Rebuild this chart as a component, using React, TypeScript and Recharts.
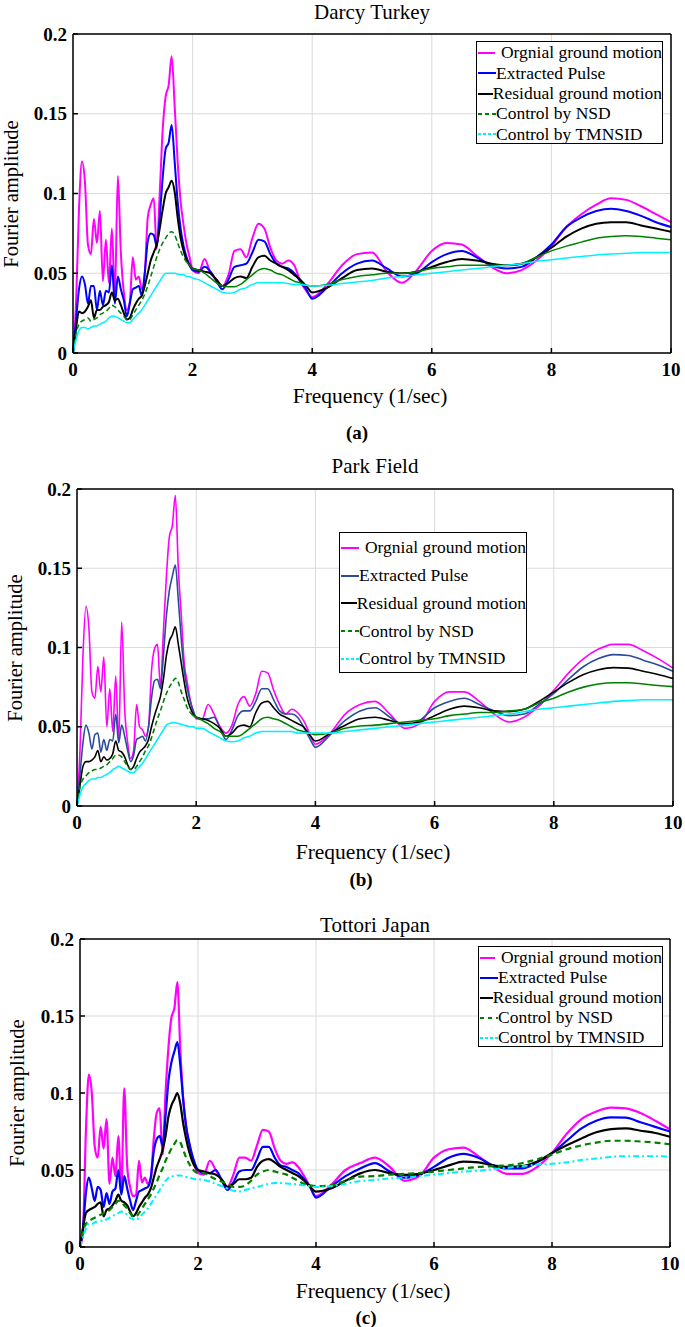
import { CartesianGrid, Legend, Line, LineChart, XAxis, YAxis } from "recharts";

const SERIF = '"Liberation Serif", "Times New Roman", serif';

// frequency grid (1/sec): dense where the spectra are jagged, coarser where smooth
const FREQ = [
  0, 0.05, 0.1, 0.15, 0.2, 0.25, 0.3, 0.35, 0.4, 0.45, 0.5, 0.55, 0.6, 0.65, 0.7, 0.75, 0.8, 0.85, 0.9, 0.95,
  1.0, 1.05, 1.1, 1.15, 1.2, 1.25, 1.3, 1.35, 1.4, 1.45, 1.5, 1.55, 1.6, 1.65, 1.7, 1.75, 1.8, 1.85, 1.9, 1.95, 2.0,
  2.1, 2.2, 2.3, 2.4, 2.5, 2.6, 2.7, 2.8, 2.9, 3.0, 3.1, 3.2, 3.3, 3.4, 3.5, 3.6, 3.7, 3.8, 3.9, 4.0,
  4.25, 4.5, 4.75, 5.0, 5.25, 5.5, 5.75, 6.0, 6.25, 6.5, 6.75, 7.0, 7.25, 7.5, 7.75, 8.0, 8.25, 8.5, 8.75, 9.0,
  9.25, 9.5, 9.75, 10.0
];
const X_TICKS = [0, 2, 4, 6, 8, 10];
const Y_TICKS = [0, 0.05, 0.1, 0.15, 0.2];
const SERIES_NAMES = [
  "Orgnial ground motion",
  "Extracted Pulse",
  "Residual ground motion",
  "Control by NSD",
  "Control by TMNSID"
];

// (a) Darcy Turkey
const darcyOrig = [
  0, 0.03, 0.09, 0.12, 0.107, 0.068, 0.062, 0.084, 0.069, 0.089, 0.045, 0.071, 0.044, 0.078, 0.035, 0.111, 0.063, 0.038, 0.027, 0.032,
  0.06, 0.046, 0.048, 0.04, 0.05, 0.085, 0.093, 0.097, 0.065, 0.1, 0.14, 0.161, 0.168, 0.186, 0.155, 0.12, 0.095, 0.08, 0.068, 0.06, 0.052,
  0.05, 0.059, 0.05, 0.046, 0.042, 0.049, 0.064, 0.065, 0.06, 0.072, 0.081, 0.078, 0.066, 0.058, 0.056, 0.058, 0.055, 0.045, 0.039, 0.035,
  0.043, 0.055, 0.062, 0.063, 0.051, 0.044, 0.052, 0.064, 0.069, 0.068, 0.061, 0.054, 0.05, 0.052, 0.058, 0.067, 0.079, 0.087, 0.093, 0.097,
  0.096, 0.092, 0.087, 0.082
];
const darcyPulse = [
  0, 0.02, 0.04, 0.048, 0.043, 0.031, 0.042, 0.042, 0.027, 0.039, 0.03, 0.039, 0.038, 0.055, 0.031, 0.048, 0.04, 0.033, 0.023, 0.031,
  0.04, 0.041, 0.042, 0.036, 0.05, 0.07, 0.075, 0.074, 0.067, 0.085, 0.11, 0.128, 0.132, 0.143, 0.12, 0.095, 0.078, 0.067, 0.06, 0.055, 0.052,
  0.051, 0.054, 0.051, 0.045, 0.04, 0.046, 0.054, 0.055, 0.056, 0.063, 0.071, 0.07, 0.062, 0.056, 0.054, 0.053, 0.05, 0.045, 0.04, 0.034,
  0.041, 0.05, 0.056, 0.058, 0.053, 0.048, 0.05, 0.057, 0.062, 0.064, 0.06, 0.055, 0.053, 0.054, 0.06, 0.068, 0.079, 0.085, 0.089, 0.0905,
  0.089, 0.086, 0.082, 0.079
];
const darcyResid = [
  0, 0.015, 0.026, 0.025, 0.026, 0.029, 0.033, 0.022, 0.027, 0.027, 0.029, 0.03, 0.032, 0.038, 0.033, 0.034, 0.03, 0.025, 0.021, 0.022,
  0.027, 0.031, 0.034, 0.036, 0.042, 0.05, 0.058, 0.063, 0.068, 0.078, 0.09, 0.1, 0.104, 0.108, 0.101, 0.085, 0.072, 0.064, 0.058, 0.055, 0.053,
  0.052, 0.051, 0.05, 0.046, 0.042, 0.044, 0.047, 0.048, 0.047, 0.054, 0.06, 0.061, 0.058, 0.056, 0.054, 0.052, 0.049, 0.046, 0.042, 0.038,
  0.041, 0.047, 0.052, 0.053, 0.051, 0.05, 0.051, 0.054, 0.057, 0.059, 0.058, 0.056, 0.055, 0.056, 0.06, 0.066, 0.073, 0.078, 0.081, 0.082,
  0.082, 0.08, 0.078, 0.076
];
const darcyNsd = [
  0, 0.012, 0.018, 0.02, 0.021, 0.022, 0.02, 0.021, 0.022, 0.024, 0.025, 0.026, 0.028, 0.03, 0.029, 0.027, 0.025, 0.023, 0.021, 0.021,
  0.024, 0.027, 0.03, 0.033, 0.037, 0.042, 0.048, 0.054, 0.06, 0.065, 0.069, 0.072, 0.075, 0.076, 0.074, 0.069, 0.064, 0.06, 0.057, 0.055, 0.053,
  0.052, 0.05, 0.047, 0.044, 0.042, 0.0415, 0.0415, 0.043, 0.046, 0.049, 0.052, 0.053, 0.052, 0.05, 0.049, 0.047, 0.045, 0.044, 0.0425, 0.042,
  0.043, 0.046, 0.048, 0.049, 0.05, 0.05, 0.051, 0.053, 0.054, 0.055, 0.055, 0.055, 0.055, 0.056, 0.06, 0.064, 0.067, 0.0695, 0.072, 0.073,
  0.0735, 0.073, 0.072, 0.071
];
const darcyTmnsid = [
  0, 0.008, 0.014, 0.016, 0.016, 0.015, 0.016, 0.017, 0.017, 0.018, 0.019, 0.02, 0.022, 0.023, 0.023, 0.022, 0.021, 0.02, 0.019, 0.019,
  0.021, 0.023, 0.025, 0.027, 0.03, 0.033, 0.036, 0.039, 0.042, 0.045, 0.048, 0.05, 0.05, 0.05, 0.05, 0.0495, 0.049, 0.049, 0.048, 0.048, 0.047,
  0.046, 0.044, 0.042, 0.04, 0.038, 0.0375, 0.038, 0.04, 0.041, 0.043, 0.044, 0.044, 0.044, 0.044, 0.044, 0.0435, 0.043, 0.043, 0.0425, 0.042,
  0.0425, 0.0435, 0.0445, 0.0455, 0.047, 0.048, 0.049, 0.05, 0.051, 0.052, 0.053, 0.054, 0.055, 0.056, 0.0575, 0.0585, 0.0595, 0.0605, 0.0615, 0.062,
  0.0625, 0.063, 0.063, 0.063
];

// (b) Park Field
const parkOrig = [
  0, 0.035, 0.095, 0.126, 0.112, 0.072, 0.068, 0.088, 0.072, 0.094, 0.05, 0.074, 0.047, 0.082, 0.04, 0.116, 0.061, 0.04, 0.03, 0.035,
  0.064, 0.05, 0.048, 0.044, 0.05, 0.085, 0.099, 0.102, 0.075, 0.11, 0.145, 0.17, 0.177, 0.196, 0.15, 0.12, 0.09, 0.078, 0.067, 0.06, 0.055,
  0.055, 0.064, 0.058, 0.05, 0.046, 0.051, 0.064, 0.069, 0.063, 0.071, 0.085, 0.084, 0.073, 0.064, 0.058, 0.061, 0.059, 0.054, 0.046, 0.039,
  0.046, 0.058, 0.064, 0.066, 0.058, 0.049, 0.052, 0.066, 0.072, 0.072, 0.066, 0.058, 0.053, 0.056, 0.063, 0.073, 0.084, 0.093, 0.099, 0.102,
  0.102, 0.098, 0.093, 0.087
];
const parkPulse = [
  0, 0.02, 0.04, 0.051, 0.046, 0.036, 0.045, 0.046, 0.034, 0.042, 0.035, 0.042, 0.041, 0.058, 0.04, 0.051, 0.044, 0.035, 0.028, 0.032,
  0.042, 0.043, 0.044, 0.041, 0.05, 0.068, 0.079, 0.08, 0.074, 0.095, 0.12, 0.136, 0.145, 0.152, 0.13, 0.105, 0.085, 0.074, 0.066, 0.06, 0.056,
  0.055, 0.055, 0.056, 0.049, 0.042, 0.048, 0.057, 0.06, 0.06, 0.066, 0.074, 0.074, 0.067, 0.06, 0.058, 0.058, 0.056, 0.05, 0.043, 0.037,
  0.045, 0.054, 0.06, 0.062, 0.056, 0.051, 0.054, 0.062, 0.066, 0.068, 0.064, 0.06, 0.057, 0.058, 0.064, 0.071, 0.08, 0.088, 0.093, 0.0955,
  0.095, 0.092, 0.089, 0.085
];
const parkResid = [
  0, 0.013, 0.025, 0.028, 0.028, 0.029, 0.031, 0.035, 0.028, 0.031, 0.029, 0.03, 0.033, 0.041, 0.035, 0.034, 0.031, 0.026, 0.023, 0.025,
  0.03, 0.034, 0.036, 0.038, 0.042, 0.05, 0.057, 0.063, 0.069, 0.08, 0.095, 0.104, 0.108, 0.113, 0.102, 0.09, 0.078, 0.068, 0.062, 0.058, 0.056,
  0.055, 0.054, 0.052, 0.049, 0.044, 0.046, 0.05, 0.051, 0.05, 0.059, 0.065, 0.066, 0.062, 0.058, 0.056, 0.054, 0.052, 0.05, 0.045, 0.041,
  0.046, 0.051, 0.055, 0.056, 0.054, 0.052, 0.053, 0.057, 0.061, 0.063, 0.062, 0.06, 0.0595, 0.061, 0.066, 0.072, 0.078, 0.083, 0.086, 0.0873,
  0.087, 0.085, 0.083, 0.0805
];
const parkNsd = [
  0, 0.012, 0.017, 0.019, 0.021, 0.022, 0.023, 0.023, 0.024, 0.025, 0.026, 0.028, 0.03, 0.032, 0.032, 0.031, 0.028, 0.025, 0.023, 0.023,
  0.025, 0.028, 0.031, 0.035, 0.038, 0.043, 0.049, 0.055, 0.06, 0.066, 0.071, 0.075, 0.078, 0.0805, 0.078, 0.072, 0.067, 0.062, 0.059, 0.057, 0.056,
  0.054, 0.052, 0.049, 0.047, 0.044, 0.044, 0.044, 0.046, 0.049, 0.052, 0.055, 0.056, 0.055, 0.054, 0.052, 0.05, 0.048, 0.047, 0.046, 0.045,
  0.046, 0.049, 0.0505, 0.051, 0.052, 0.053, 0.054, 0.055, 0.057, 0.058, 0.059, 0.059, 0.06, 0.061, 0.065, 0.068, 0.072, 0.075, 0.077, 0.0778,
  0.0778, 0.077, 0.076, 0.0753
];
const parkTmnsid = [
  0, 0.007, 0.012, 0.014, 0.016, 0.017, 0.017, 0.018, 0.018, 0.019, 0.02, 0.021, 0.023, 0.024, 0.025, 0.024, 0.023, 0.022, 0.021, 0.021,
  0.023, 0.025, 0.027, 0.03, 0.033, 0.036, 0.039, 0.042, 0.045, 0.048, 0.051, 0.052, 0.0525, 0.0525, 0.052, 0.0515, 0.051, 0.0505, 0.05, 0.05, 0.049,
  0.049, 0.047, 0.045, 0.043, 0.041, 0.0405, 0.041, 0.043, 0.044, 0.046, 0.047, 0.047, 0.047, 0.047, 0.047, 0.047, 0.046, 0.046, 0.046, 0.046,
  0.046, 0.047, 0.048, 0.049, 0.05, 0.051, 0.052, 0.053, 0.054, 0.055, 0.056, 0.057, 0.058, 0.0595, 0.061, 0.062, 0.063, 0.064, 0.065, 0.066,
  0.0665, 0.067, 0.067, 0.067
];

// (c) Tottori Japan
const tottoriOrig = [
  0, 0.01, 0.075, 0.112, 0.1, 0.065, 0.058, 0.078, 0.064, 0.083, 0.041, 0.058, 0.046, 0.072, 0.037, 0.103, 0.052, 0.039, 0.033, 0.034,
  0.056, 0.042, 0.045, 0.041, 0.045, 0.07, 0.087, 0.09, 0.06, 0.1, 0.13, 0.149, 0.155, 0.172, 0.128, 0.096, 0.078, 0.067, 0.059, 0.052, 0.048,
  0.047, 0.056, 0.05, 0.0435, 0.039, 0.047, 0.058, 0.058, 0.056, 0.066, 0.076, 0.075, 0.064, 0.056, 0.054, 0.055, 0.052, 0.046, 0.039, 0.033,
  0.04, 0.05, 0.0545, 0.058, 0.052, 0.043, 0.046, 0.058, 0.0635, 0.0645, 0.059, 0.052, 0.0475, 0.0475, 0.052, 0.061, 0.0735, 0.083, 0.088, 0.0905,
  0.09, 0.087, 0.082, 0.0764
];
const tottoriPulse = [
  0, 0.012, 0.035, 0.045, 0.038, 0.03, 0.039, 0.037, 0.026, 0.035, 0.028, 0.036, 0.038, 0.05, 0.034, 0.046, 0.038, 0.03, 0.024, 0.03,
  0.036, 0.037, 0.038, 0.039, 0.045, 0.062, 0.07, 0.072, 0.066, 0.085, 0.108, 0.12, 0.127, 0.133, 0.118, 0.095, 0.078, 0.068, 0.06, 0.054, 0.05,
  0.048, 0.048, 0.05, 0.0435, 0.037, 0.042, 0.049, 0.05, 0.05, 0.057, 0.065, 0.065, 0.058, 0.053, 0.052, 0.05, 0.048, 0.044, 0.039, 0.032,
  0.039, 0.046, 0.051, 0.0545, 0.049, 0.045, 0.047, 0.052, 0.058, 0.0605, 0.058, 0.053, 0.051, 0.051, 0.055, 0.061, 0.069, 0.077, 0.082, 0.0842,
  0.084, 0.081, 0.078, 0.075
];
const tottoriResid = [
  0, 0.012, 0.022, 0.024, 0.025, 0.026, 0.028, 0.029, 0.02, 0.024, 0.025, 0.027, 0.03, 0.034, 0.03, 0.029, 0.027, 0.023, 0.02, 0.022,
  0.026, 0.029, 0.032, 0.034, 0.038, 0.045, 0.052, 0.057, 0.063, 0.072, 0.085, 0.092, 0.096, 0.1, 0.093, 0.08, 0.07, 0.062, 0.056, 0.052, 0.05,
  0.049, 0.048, 0.047, 0.044, 0.039, 0.041, 0.044, 0.044, 0.045, 0.052, 0.056, 0.057, 0.055, 0.052, 0.05, 0.048, 0.046, 0.043, 0.039, 0.036,
  0.038, 0.043, 0.0478, 0.05, 0.048, 0.0468, 0.0475, 0.05, 0.053, 0.0555, 0.055, 0.053, 0.052, 0.0525, 0.0555, 0.061, 0.066, 0.0705, 0.0745, 0.0765,
  0.077, 0.0755, 0.074, 0.0716
];
const tottoriNsd = [
  0, 0.01, 0.015, 0.017, 0.018, 0.019, 0.02, 0.021, 0.022, 0.023, 0.024, 0.026, 0.028, 0.03, 0.029, 0.027, 0.025, 0.022, 0.02, 0.02,
  0.022, 0.025, 0.028, 0.031, 0.034, 0.038, 0.042, 0.047, 0.051, 0.056, 0.06, 0.064, 0.067, 0.0695, 0.068, 0.063, 0.058, 0.054, 0.051, 0.049, 0.048,
  0.048, 0.046, 0.044, 0.0425, 0.041, 0.039, 0.039, 0.04, 0.043, 0.047, 0.049, 0.05, 0.049, 0.048, 0.047, 0.045, 0.043, 0.041, 0.04, 0.0395,
  0.04, 0.043, 0.0457, 0.046, 0.047, 0.0475, 0.048, 0.049, 0.05, 0.051, 0.052, 0.0525, 0.053, 0.0545, 0.057, 0.06, 0.0635, 0.066, 0.0678, 0.069,
  0.069, 0.0685, 0.0678, 0.0667
];
const tottoriTmnsid = [
  0, 0.006, 0.012, 0.015, 0.015, 0.016, 0.0165, 0.017, 0.017, 0.018, 0.019, 0.02, 0.021, 0.022, 0.023, 0.022, 0.021, 0.019, 0.018, 0.0175,
  0.019, 0.021, 0.023, 0.025, 0.028, 0.031, 0.034, 0.037, 0.04, 0.043, 0.045, 0.046, 0.046, 0.0465, 0.0465, 0.046, 0.0455, 0.045, 0.0445, 0.044, 0.044,
  0.0435, 0.0425, 0.041, 0.0395, 0.038, 0.0365, 0.036, 0.037, 0.038, 0.039, 0.04, 0.041, 0.0415, 0.0415, 0.0413, 0.041, 0.0405, 0.04, 0.0395, 0.039,
  0.0395, 0.041, 0.0429, 0.0435, 0.0445, 0.045, 0.046, 0.047, 0.048, 0.049, 0.0495, 0.0505, 0.0515, 0.0525, 0.0535, 0.054, 0.055, 0.0565, 0.0575, 0.0585,
  0.059, 0.059, 0.059, 0.0587
];

type LineStyle = { color: string; width: number; dash?: string; legendDash?: string };

type PanelDef = {
  title: string;
  letter: string;
  bandTop: number;
  bandHeight: number;
  plot: { left: number; top: number; right: number; bottom: number };
  series: number[][];
  styles: LineStyle[];
  splitNsd: boolean;
  legend: { left: number; top: number; width: number; height: number; row: number };
  titleY: number;
  xLabelY: number;
  letterX: number;
  letterY: number;
  yLabelX: number;
};

const PANELS: PanelDef[] = [
  {
    title: "Darcy Turkey",
    letter: "(a)",
    bandTop: 0,
    bandHeight: 450,
    plot: { left: 73, top: 34, right: 671, bottom: 353 },
    series: [darcyOrig, darcyPulse, darcyResid, darcyNsd, darcyTmnsid],
    styles: [
      { color: "#ff00ff", width: 2 },
      { color: "#0000ff", width: 2 },
      { color: "#000000", width: 2 },
      { color: "#008000", width: 1.5, dash: "5 3", legendDash: "4 3" },
      { color: "#00f0ff", width: 1.5, legendDash: "3 2" }
    ],
    splitNsd: true,
    legend: { left: 476, top: 41, width: 187, height: 103, row: 20.3 },
    titleY: 12,
    xLabelY: 396,
    letterX: 357,
    letterY: 433,
    yLabelX: 11
  },
  {
    title: "Park Field",
    letter: "(b)",
    bandTop: 450,
    bandHeight: 450,
    plot: { left: 77, top: 489, right: 673, bottom: 806 },
    series: [parkOrig, parkPulse, parkResid, parkNsd, parkTmnsid],
    styles: [
      { color: "#ff00ff", width: 1.6 },
      { color: "#2b4c9b", width: 1.6 },
      { color: "#000000", width: 1.6 },
      { color: "#008000", width: 1.6, dash: "5 3", legendDash: "4 3" },
      { color: "#00f0ff", width: 1.6, legendDash: "3 2" }
    ],
    splitNsd: true,
    legend: { left: 339, top: 532, width: 188, height: 141, row: 27.8 },
    titleY: 466,
    xLabelY: 852,
    letterX: 361,
    letterY: 880,
    yLabelX: 15
  },
  {
    title: "Tottori Japan",
    letter: "(c)",
    bandTop: 900,
    bandHeight: 427,
    plot: { left: 80, top: 939, right: 670, bottom: 1247 },
    series: [tottoriOrig, tottoriPulse, tottoriResid, tottoriNsd, tottoriTmnsid],
    styles: [
      { color: "#ff00ff", width: 2.2 },
      { color: "#0000ff", width: 2.2 },
      { color: "#000000", width: 2.2 },
      { color: "#008000", width: 2.2, dash: "6 4", legendDash: "4 4" },
      { color: "#00f0ff", width: 2, dash: "6 3 2 3", legendDash: "3 2" }
    ],
    splitNsd: false,
    legend: { left: 478, top: 946, width: 185, height: 101, row: 20 },
    titleY: 925,
    xLabelY: 1291,
    letterX: 366,
    letterY: 1318,
    yLabelX: 17
  }
];

const KEYS = ["orig", "pulse", "resid", "nsd", "tmnsid"];
const X_AXIS_H = 40;

const buildRows = (p: PanelDef) =>
  FREQ.map((f, i) => {
    const row: Record<string, number | null> = { f };
    KEYS.forEach((k, j) => {
      row[k] = p.series[j][i];
    });
    if (p.splitNsd) {
      row.nsdLow = f <= 1.9 ? p.series[3][i] : null;
      row.nsd = f >= 1.9 ? p.series[3][i] : null;
    }
    return row;
  });

const LegendBox = ({ p }: { p: PanelDef }) => (
  <div
    style={{
      width: p.legend.width,
      height: p.legend.height,
      boxSizing: "border-box",
      border: "1.5px solid #000",
      background: "#fff",
      paddingTop: 1,
      fontFamily: SERIF,
      fontSize: 17.5,
      color: "#000",
      lineHeight: 1
    }}
  >
    {SERIES_NAMES.map((name, i) => {
      const s = p.styles[i];
      return (
        <div key={name} style={{ display: "flex", alignItems: "center", height: p.legend.row, whiteSpace: "nowrap" }}>
          <svg width={18} height={6} style={{ marginLeft: 1 }}>
            <line x1={0} y1={3} x2={18} y2={3} stroke={s.color} strokeWidth={2} strokeDasharray={s.legendDash} />
          </svg>
          <span style={{ marginLeft: i === 0 ? 6 : 0 }}>{name}</span>
        </div>
      );
    })}
  </div>
);

const tickFont = { fill: "#000", fontSize: 19, fontWeight: 700, fontFamily: SERIF };
const axisStroke = { stroke: "#000", strokeWidth: 1.5 };

const Panel = ({ p }: { p: PanelDef }) => {
  const rows = buildRows(p);
  const margin = {
    top: p.plot.top - p.bandTop - 1,
    right: 685 - p.plot.right - 1,
    bottom: p.bandTop + p.bandHeight - p.plot.bottom - X_AXIS_H,
    left: 0
  };
  const midY = (p.plot.top + p.plot.bottom) / 2;
  const midX = (p.plot.left + p.plot.right) / 2;
  const text = { position: "absolute" as const, fontFamily: SERIF, color: "#000", whiteSpace: "nowrap" as const };
  return (
    <>
      <div style={{ position: "absolute", left: 0, top: p.bandTop }}>
        <LineChart width={685} height={p.bandHeight} data={rows} margin={margin}>
          <CartesianGrid stroke="#dadada" strokeWidth={1} />
          <XAxis
            dataKey="f"
            type="number"
            domain={[0, 10]}
            ticks={X_TICKS}
            interval={0}
            height={X_AXIS_H}
            tickSize={-5}
            tickMargin={15}
            tick={tickFont}
            tickLine={axisStroke}
            axisLine={axisStroke}
          />
          <XAxis
            xAxisId="top"
            orientation="top"
            type="number"
            domain={[0, 10]}
            ticks={X_TICKS}
            height={1}
            tickSize={-5}
            tick={false}
            tickLine={axisStroke}
            axisLine={axisStroke}
          />
          <YAxis
            type="number"
            domain={[0, 0.2]}
            ticks={Y_TICKS}
            interval={0}
            width={p.plot.left}
            tickSize={-5}
            tickMargin={11}
            tick={tickFont}
            tickLine={axisStroke}
            axisLine={axisStroke}
            tickFormatter={(v: number) => String(v)}
          />
          <YAxis
            yAxisId="right"
            orientation="right"
            type="number"
            domain={[0, 0.2]}
            ticks={Y_TICKS}
            width={1}
            tickSize={-5}
            tick={false}
            tickLine={axisStroke}
            axisLine={axisStroke}
          />
          <Legend
            layout="vertical"
            align="center"
            verticalAlign="middle"
            wrapperStyle={{
              left: p.legend.left,
              top: p.legend.top - p.bandTop,
              width: p.legend.width,
              height: p.legend.height
            }}
            content={() => <LegendBox p={p} />}
          />
          {KEYS.map((k, j) => {
            const s = p.styles[j];
            const lines = [
              <Line
                key={k}
                dataKey={k}
                name={SERIES_NAMES[j]}
                type="monotone"
                stroke={s.color}
                strokeWidth={s.width}
                strokeDasharray={k === "nsd" && p.splitNsd ? undefined : s.dash}
                dot={false}
                activeDot={false}
                isAnimationActive={false}
                legendType="none"
              />
            ];
            if (k === "nsd" && p.splitNsd) {
              lines.unshift(
                <Line
                  key="nsdLow"
                  dataKey="nsdLow"
                  type="monotone"
                  stroke={s.color}
                  strokeWidth={s.width}
                  strokeDasharray={s.dash}
                  dot={false}
                  activeDot={false}
                  isAnimationActive={false}
                  legendType="none"
                />
              );
            }
            return lines;
          })}
        </LineChart>
      </div>
      <div style={{ ...text, left: midX, top: p.titleY, transform: "translate(-50%, -50%)", fontSize: 21 }}>
        {p.title}
      </div>
      <div style={{ ...text, left: midX - 2, top: p.xLabelY, transform: "translate(-50%, -50%)", fontSize: 21.5 }}>
        Frequency (1/sec)
      </div>
      <div
        style={{ ...text, left: p.letterX, top: p.letterY, transform: "translate(-50%, -50%)", fontSize: 19, fontWeight: 700 }}
      >
        {p.letter}
      </div>
      <div
        style={{
          ...text,
          left: p.yLabelX,
          top: midY,
          transform: "translate(-50%, -50%) rotate(-90deg)",
          fontSize: 20.5
        }}
      >
        Fourier amplitude
      </div>
    </>
  );
};

export default function App() {
  return (
    <div style={{ position: "absolute", left: 0, top: 0, width: 685, height: 1327, background: "#fff", overflow: "hidden" }}>
      {PANELS.map((p) => (
        <Panel key={p.letter} p={p} />
      ))}
    </div>
  );
}
